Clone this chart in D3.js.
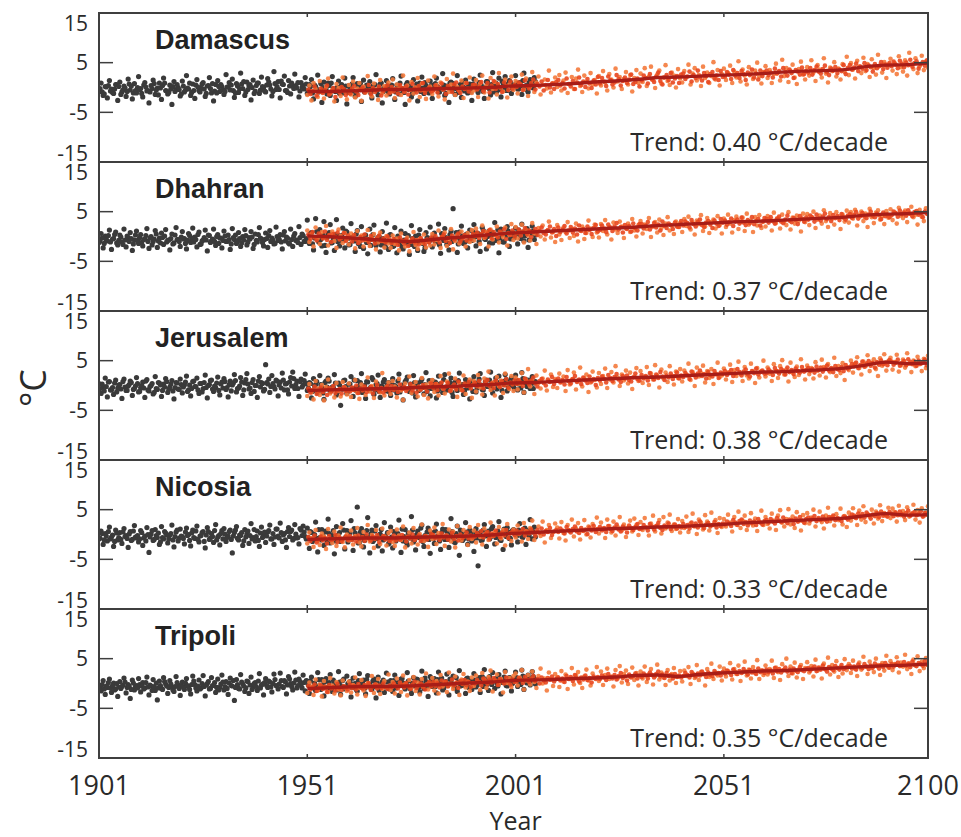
<!DOCTYPE html>
<html><head><meta charset="utf-8">
<script src="https://cdn.jsdelivr.net/npm/d3@7"></script>
<style>body{margin:0;background:#fff}svg{display:block}</style>
</head><body><svg id="chart" width="961" height="837"></svg>
<script>
// ---------------- DATA ----------------
const stations = ["Damascus", "Dhahran", "Jerusalem", "Nicosia", "Tripoli"];
const trendLabels = ["Trend: 0.40 °C/decade", "Trend: 0.37 °C/decade", "Trend: 0.38 °C/decade", "Trend: 0.33 °C/decade", "Trend: 0.35 °C/decade"];
const yTicks = [15, 5, -5, -15];
const xTicks = [1901, 1951, 2001, 2051, 2100];
const obsStart = 1901, modStart = 1951, valueStep = 0.5, secondOffset = 0.25; // values every half year, second set shifted a quarter year
const trendYears = [1951,1955,1960,1965,1970,1975,1980,1985,1990,1995,2000,2005,2010,2015,2020,2025,2030,2035,2040,2045,2050,2055,2060,2065,2070,2075,2080,2085,2090,2095,2100];

// Damascus
const damascusObs = [-0.8,0.9,-1.6,0.2,-2.1,1.4,-0.3,-1.2,0.6,-2.6,1.1,-0.9,0.3,-1.8,1.7,-0.5,-2.3,0.8,-1.1,2.2,
-0.2,-1.9,1.0,-0.7,-3.1,0.4,1.5,-1.4,-0.1,0.9,-2.4,1.9,-0.6,-1.3,0.5,-3.4,1.2,-0.4,0.0,-1.7,
1.3,-0.9,2.4,-0.3,-1.6,0.7,-2.2,1.6,-0.6,-0.1,1.0,-1.8,0.3,2.0,-1.1,-2.7,0.6,1.4,-0.8,0.2,
-1.4,2.6,0.1,-0.5,1.7,-2.0,0.8,-1.0,2.9,-0.2,-1.6,1.1,0.4,-2.5,1.5,-0.7,0.9,-1.2,2.1,0.0,
-0.9,1.8,0.5,-1.7,3.2,-0.4,1.2,-2.1,0.7,2.3,-0.6,1.4,-1.3,0.3,2.7,-0.1,-1.9,1.0,0.4,2.0,
-1.2,0.6,1.6,-2.3,0.2,2.5,-0.8,-3.0,1.1,-0.3,0.9,-1.6,2.2,-0.5,-2.6,1.3,0.1,-1.1,1.9,-3.3,
0.4,-0.9,2.0,-1.8,0.8,-0.2,-2.8,1.5,-0.6,0.3,1.2,-2.1,-0.4,2.6,-1.5,0.7,-3.1,0.0,1.4,-1.0,
-0.3,1.8,-2.4,0.5,-1.3,2.3,-0.7,-3.4,1.0,0.2,-1.9,1.6,-0.1,-2.7,0.9,2.1,-1.2,0.4,-0.8,1.3,
-2.2,0.6,1.9,-0.9,-0.2,2.8,-1.6,0.3,-3.0,1.1,0.8,-1.4,2.4,-0.5,-2.0,0.1,1.5,-1.1,0.7,-2.6,
1.7,0.2,-1.0,2.5,-0.4,-2.2,1.2,0.6,-1.5,3.0,0.0,-0.8,1.9,-1.9,0.9,2.2,-0.6,1.4,-1.2,0.5,
2.4,-0.3,1.0,-1.4,2.9,0.4,-0.9,1.6,0.2,2.0];
const damascusObs2 = [-0.2,-0.9,-1.3,0.1,0.4,-0.7,-1.0,-0.3,0.6,0.2,-1.4,-0.5,-0.1,-0.8,0.7,0.3,-1.1,-0.6,0.0,-0.4,
-1.2,0.5,0.1,-0.6,-0.9,-0.2,0.8,-0.5,-1.5,-0.1,0.4,0.9,-0.7,-1.0,-0.3,0.2,-0.8,0.6,-0.4,-1.3,
0.3,-0.5,-0.1,0.9,-1.0,-0.6,0.5,0.1,-0.9,0.7,-0.3,-1.2,0.4,-0.2,0.8,-0.7,-1.1,0.2,0.6,-0.4,
-0.8,0.1,1.0,0.5,-0.6,-1.1,0.3,-0.2,0.7,1.2,-0.9,-0.4,0.6,0.0,-1.2,0.4,0.9,-0.5,0.2,-0.7,
0.5,1.1,-0.3,-0.8,0.8,0.2,-0.4,1.3,0.6,-0.6,-1.0,0.3,0.9,-0.2,0.4,1.0,-0.7,0.1,-0.3,0.7,
-0.6,0.2,-1.1,0.5,-0.3,-0.9,0.8,0.0,-0.5,-1.3,0.4,0.9,-0.2,-0.8,0.1,-1.2,0.6,-0.4,0.3,-1.0,
-0.1,0.7,-0.7,-1.2,0.2,0.8,-0.4,-0.9,0.5,-0.2,-1.1,0.3,0.6,-0.6,-0.1,0.9,-0.8,-0.3,0.4,-1.3,
0.5,-0.5,-0.9,0.2,0.9,-0.2,-1.0,0.6,-0.4,0.1,-1.2,-0.6,0.7,0.3,-0.8,-0.1,1.0,-0.5,-1.1,0.4,
-0.3,0.8,0.2,-0.9,-0.4,0.5,-1.2,0.0,0.9,-0.6,0.3,-0.2,-1.0,0.6,1.1,-0.7,-0.3,0.4,-0.9,0.7,
0.2,-0.5,1.0,0.5,-0.8,0.1,1.2,-0.3,0.6,-0.9,0.9,0.3,-0.4,1.3,0.0,-0.6,0.8,1.1,-0.2,0.5,
0.9,-0.3,0.4,1.4,0.1,-0.5,1.0,0.6,-0.1,1.2];
const damascusModel = [-1.5,0.4,-2.6,0.9,-0.3,-1.9,1.3,-0.9,-2.2,0.1,1.8,-1.2,-0.5,-2.8,0.7,-0.1,-1.7,2.0,-0.8,-2.4,
0.5,-1.4,1.2,-2.0,-0.2,0.9,-2.7,0.2,-1.0,2.3,-0.6,-1.8,0.8,-0.4,-2.5,1.5,-1.1,0.3,-1.6,1.0,
-0.9,1.6,-2.1,0.6,-0.2,-1.5,2.4,-0.7,0.4,-2.6,1.1,-1.2,0.0,1.9,-1.9,0.8,-0.5,-2.3,1.4,0.2,
-1.3,2.2,0.5,-1.8,1.0,-0.4,-2.4,1.7,-0.9,0.6,2.8,-1.5,0.1,-0.7,1.4,-2.1,0.9,-0.2,2.0,-1.1,
-0.6,1.5,-1.9,0.8,2.4,-1.0,0.3,-2.2,1.9,-0.3,1.1,-1.4,2.9,0.0,-0.8,1.6,-2.0,0.6,2.2,-0.5,
1.3,-1.2,0.7,2.6,-0.4,1.8,-1.7,0.2,3.1,-0.9,1.0,2.2,-1.4,0.5,1.6,-0.2,3.4,-1.0,0.9,2.0,
0.1,2.5,-0.6,1.4,3.0,-1.1,0.7,2.1,-0.3,1.8,3.6,0.3,-0.9,2.4,1.1,-0.2,2.9,0.6,1.5,-1.2,
2.3,0.4,3.3,1.0,-0.6,2.7,1.6,0.0,3.8,1.2,2.1,-0.3,1.7,3.1,0.6,2.5,-0.8,1.9,3.5,0.9,
2.8,1.1,3.9,0.3,2.2,4.2,1.5,-0.1,2.6,3.4,0.8,2.0,4.5,1.3,0.5,3.0,2.4,0.0,3.7,1.8,
1.0,3.3,2.1,4.6,0.6,2.8,3.9,1.4,2.5,0.3,4.2,1.9,3.0,0.9,2.3,5.1,1.6,3.5,0.4,2.7,
3.8,1.5,2.9,4.4,0.9,3.2,2.0,5.3,1.2,3.6,2.4,0.6,4.1,2.8,1.7,3.4,5.0,2.2,0.8,3.1,
4.3,1.9,3.5,0.9,2.7,4.8,3.0,1.4,5.6,2.3,3.9,1.1,3.3,4.6,2.0,0.7,3.7,5.2,2.6,1.6,
4.1,2.4,5.5,3.0,1.3,4.5,3.6,2.0,5.9,2.8,1.0,4.0,3.3,5.1,2.2,3.8,1.6,4.7,3.1,6.2,
2.5,4.9,3.6,1.8,5.4,4.2,2.9,6.0,3.3,4.7,2.1,5.7,3.9,2.6,6.6,4.4,3.0,5.1,1.9,4.6,
5.8,3.4,4.9,2.7,6.3,4.1,3.2,5.5,2.4,7.0,4.6,3.7,5.9,2.9,4.3,6.4,3.5,5.2,4.0,6.1];
const damascusModel2 = [-0.4,-1.3,-0.7,0.2,-1.6,-0.9,-0.2,-1.1,-0.5,0.4,-1.4,-0.8,-0.1,-1.9,-0.6,-1.0,0.1,-0.3,-1.5,-0.7,
-1.2,-0.2,0.3,-0.8,-1.5,-0.4,0.0,-1.0,-0.6,0.5,-1.3,-0.1,-0.9,-0.5,0.2,-1.6,-0.7,-0.2,0.4,-1.1,
0.1,-0.8,-0.3,-1.2,0.5,-0.1,-0.9,0.2,-1.4,-0.5,0.7,-0.2,-1.0,0.3,-0.6,0.9,-1.1,-0.4,0.0,-0.8,
-0.6,0.4,-1.0,0.0,0.8,-0.4,-1.3,0.3,-0.1,-0.9,0.6,1.0,-0.5,-1.1,0.2,-0.3,0.9,-0.8,-0.2,0.5,
0.6,-0.4,0.2,1.1,-0.7,-0.1,0.9,-1.0,0.4,1.3,-0.3,0.7,0.0,-0.9,1.0,0.3,-0.5,1.2,-0.2,0.5,
0.1,1.0,0.6,-0.5,1.4,0.3,-0.2,0.9,1.6,-0.4,0.7,0.2,1.2,-0.6,0.5,1.5,0.0,0.8,-0.3,1.1,
1.5,0.4,0.9,-0.2,1.8,0.7,0.2,1.3,-0.3,1.0,2.0,0.5,1.2,0.1,1.7,0.8,-0.1,1.4,0.6,2.1,
0.8,1.9,1.2,0.3,2.2,1.5,0.6,1.0,2.5,1.7,0.4,1.3,2.0,0.9,1.6,2.6,0.7,1.1,1.8,0.2,
1.4,2.4,1.9,0.8,2.7,1.6,1.1,2.2,3.0,1.3,0.6,2.0,2.5,1.5,2.9,1.0,1.8,2.3,0.9,2.6,
2.8,1.7,2.2,3.2,1.2,2.5,1.9,3.4,2.0,1.4,2.9,2.3,1.1,2.7,3.1,1.8,2.4,1.5,3.3,2.1,
2.2,3.1,2.6,1.7,3.5,2.4,2.9,1.9,3.3,2.7,1.5,3.0,2.5,3.6,2.0,2.8,1.6,3.4,2.3,3.0,
3.4,2.5,3.0,2.0,3.8,2.8,3.3,2.2,3.9,3.1,2.4,3.6,2.9,1.9,3.5,3.2,2.6,4.0,2.7,3.3,
3.0,3.9,2.6,3.5,4.2,3.2,2.8,3.7,4.4,3.1,2.5,3.8,3.4,4.1,2.9,3.6,3.3,4.5,2.7,3.9,
4.5,3.6,4.0,4.8,3.3,4.2,3.8,4.9,3.5,4.4,4.1,3.2,4.7,3.9,4.3,5.1,3.7,4.6,4.0,4.9,
4.3,5.2,4.6,3.9,5.4,4.8,4.1,5.0,4.5,5.6,4.2,4.9,5.3,3.8,4.7,5.1,4.4,5.5,4.6,5.0];
const damascusTrend = [-0.8,-0.8,-0.7,-0.6,-0.4,-0.4,-0.3,-0.2,-0.1,0.0,0.3,0.4,0.6,0.8,1.1,1.3,1.6,2.0,2.1,2.3,2.5,2.6,2.8,3.1,3.3,3.4,3.6,4.2,4.5,4.6,4.9];

// Dhahran
const dhahranObs = [-1.2,0.6,-2.3,0.1,-0.9,1.3,-2.6,-0.4,0.9,-1.7,0.3,-1.1,1.5,-2.1,-0.2,0.8,-2.8,-0.7,1.1,-1.4,
0.4,-1.9,-0.5,1.6,-2.4,0.0,-1.0,1.2,-2.2,-0.3,0.7,-1.6,1.4,-0.8,-2.7,0.5,-1.3,1.8,-0.6,-2.0,
1.0,-0.4,-2.5,0.6,-1.2,1.7,-0.1,-2.1,0.9,-1.5,-0.7,1.3,-2.9,0.2,-0.9,1.5,-1.8,0.4,-0.3,-2.3,
1.1,-1.0,0.3,-2.6,1.6,-0.6,-1.4,0.8,-2.0,0.0,1.4,-1.7,-0.2,1.0,-2.4,0.5,-1.1,1.8,-0.5,-1.9,
0.7,-2.2,1.2,-0.3,-1.5,1.9,-0.8,0.4,-2.5,1.0,-0.1,-1.3,1.5,-2.0,0.6,-0.7,2.0,-1.6,0.2,-1.0,
3.3,-1.4,0.8,-2.7,3.6,-0.5,1.4,-1.9,3.0,-3.2,0.5,2.4,-1.2,-2.8,3.4,0.2,-0.9,1.7,-2.3,0.9,
-1.7,2.6,-0.4,-3.0,1.2,-1.1,2.0,-2.4,0.3,-3.5,1.5,-0.6,2.3,-1.8,-0.2,-3.1,1.0,-1.3,2.7,-2.6,
0.4,-2.0,1.8,-3.3,-0.7,1.1,-2.5,0.6,-1.5,-3.6,2.2,-0.9,0.1,-2.8,1.4,-1.2,-3.0,0.8,-0.3,1.9,
-2.1,0.7,-1.0,2.5,-3.4,0.0,1.6,-1.6,-2.7,1.1,5.6,-0.5,-3.2,0.9,2.1,-1.4,0.3,-2.3,1.3,-0.8,
2.4,-1.9,0.6,-3.0,1.8,-0.4,-2.5,1.0,0.2,-1.3,2.8,-0.7,-3.3,1.5,-1.1,0.5,2.0,-2.0,0.8,-0.2,
1.7,-1.5,0.4,2.5,-0.9,1.2,-2.2,0.9,2.1,-0.6];
const dhahranObs2 = [-0.9,-0.3,-1.4,-0.6,0.2,-1.1,-0.5,0.4,-1.3,-0.8,-0.1,-1.6,-0.7,0.1,-1.0,-0.4,-1.5,0.3,-0.8,-0.2,
-1.2,-0.6,0.2,-1.0,-0.3,-1.7,-0.5,0.5,-0.9,-1.3,-0.2,0.1,-1.1,-0.7,-0.4,-1.5,0.3,-0.6,-1.0,-0.1,
-0.5,-1.4,-0.8,0.2,-0.3,-1.1,-0.6,0.4,-1.6,-0.9,-0.2,-0.7,0.3,-1.2,-0.5,-1.0,0.0,-1.4,-0.3,-0.8,
0.1,-1.0,-0.6,-1.5,-0.2,0.3,-0.9,-0.4,-1.3,-0.7,0.2,-1.1,-0.5,-0.1,-1.6,-0.8,0.4,-0.3,-1.2,-0.6,
-0.4,0.2,-1.0,-0.7,-1.4,0.0,-0.5,-1.1,0.3,-0.9,-0.3,-1.5,-0.6,0.1,-0.8,-1.2,-0.2,0.5,-1.0,-0.4,
-0.8,0.6,-1.5,-0.3,1.0,-1.1,-0.6,0.3,-1.8,-0.2,0.8,-1.3,-0.5,0.4,-1.0,-1.9,0.2,-0.7,1.1,-0.4,
-1.6,-0.1,-0.9,0.5,-1.4,-2.0,-0.3,0.2,-1.2,-0.6,-1.8,0.4,-0.8,-1.3,0.0,-1.7,-0.4,-2.1,-0.9,0.3,
-1.1,-1.9,-0.5,0.1,-1.5,-2.2,-0.7,-1.0,0.2,-1.6,-0.4,-2.0,-1.2,0.3,-0.8,-1.4,-2.3,-0.2,-1.0,-0.6,
0.2,-1.1,-0.5,-1.7,0.6,-0.8,-0.2,-1.4,0.4,-1.0,-0.3,0.8,-1.5,-0.6,0.1,-1.2,0.5,-0.9,-0.4,1.0,
-0.1,0.7,-1.0,0.3,1.2,-0.6,0.0,-1.3,0.9,0.4,-0.8,1.4,-0.3,0.6,-1.1,0.2,1.1,-0.5,0.8,-0.2,
0.5,1.3,-0.4,0.9,0.1,1.6,-0.7,0.6,1.1,0.3];
const dhahranModel = [1.2,-1.1,0.5,-2.0,1.8,-0.4,-1.5,0.9,-0.2,2.1,-1.8,0.3,1.0,-0.9,-2.3,1.4,0.1,-1.3,0.7,-0.6,
-1.6,0.6,-0.2,-2.4,1.1,-1.0,0.2,-2.0,-0.7,1.3,-1.9,-0.3,0.5,-2.6,-1.2,0.8,-0.9,-2.2,0.1,-1.4,
-2.3,0.2,-1.5,-0.4,-2.8,0.6,-1.1,-2.0,-0.2,-3.0,-0.8,0.9,-1.7,-2.5,-0.5,-1.3,0.4,-2.2,-0.9,-1.8,
0.5,-1.6,-0.7,1.2,-2.3,-0.1,0.8,-1.9,-0.5,1.5,-2.6,-0.9,0.3,-1.4,1.0,-0.2,-2.0,0.7,-1.1,1.3,
-0.8,1.6,0.1,-1.5,2.2,-0.3,0.9,-2.0,1.4,-0.6,0.4,2.0,-1.2,0.7,-0.1,1.8,-1.8,0.3,2.5,-0.7,
1.9,-0.4,0.8,2.4,-1.2,1.3,0.2,-0.8,2.7,0.6,-1.5,1.7,0.0,2.2,-0.6,1.1,3.0,-0.2,0.9,-1.1,
2.3,0.4,-0.7,1.8,0.9,2.9,-0.3,1.5,0.1,2.6,-1.0,1.2,2.0,-0.5,0.7,3.2,1.6,-0.1,2.4,0.8,
-0.2,2.5,1.1,3.3,0.4,1.9,-0.6,2.8,1.4,0.7,3.0,2.0,-0.3,1.6,2.6,0.9,3.5,1.2,0.0,2.3,
3.1,0.6,2.4,1.5,3.7,-0.1,2.0,2.9,0.8,3.4,1.7,0.3,2.6,3.9,1.2,2.2,0.5,3.0,1.9,2.7,
0.9,3.5,2.1,4.0,1.4,2.8,0.4,3.2,2.5,4.3,1.1,2.0,3.7,0.7,2.9,3.4,1.6,4.1,2.3,0.6,
3.6,1.9,4.4,2.6,0.8,3.3,4.0,1.5,2.9,3.8,1.1,4.6,2.4,3.1,0.9,3.9,2.2,4.3,1.7,3.0,
2.0,4.1,3.4,1.2,4.8,2.7,3.6,1.6,4.4,3.0,2.3,4.9,1.4,3.8,2.6,4.2,3.2,1.0,4.6,2.9,
4.5,2.3,3.9,5.0,1.7,3.4,4.2,2.6,5.3,3.1,1.9,4.7,3.6,2.4,4.9,3.8,1.5,4.4,3.0,5.2,
2.8,4.9,3.6,5.4,2.2,4.3,5.0,3.1,4.6,1.9,5.6,3.9,2.7,4.8,5.3,3.4,4.1,2.5,5.1,3.8,
5.5,3.3,4.8,2.6,5.8,4.2,3.7,5.2,2.9,4.6,6.0,3.9,4.4,2.4,5.4,4.0,3.1,5.7,4.5,3.6];
const dhahranModel2 = [0.4,-0.5,0.9,-0.2,-0.8,0.6,0.1,-0.4,1.0,-0.7,0.3,-1.1,0.5,-0.1,0.8,-0.6,-0.3,0.7,-0.9,0.2,
-0.2,-1.0,0.3,-0.6,-1.3,-0.1,-0.8,0.4,-0.5,-1.1,0.1,-0.7,-1.4,-0.3,0.2,-0.9,-0.4,-1.2,0.0,-0.6,
-1.3,-0.5,-1.0,-1.7,-0.2,-0.8,-1.4,-0.6,-1.9,-1.1,-0.4,-1.2,-0.7,-1.6,-0.3,-1.0,-1.5,-0.6,-1.2,-0.2,
-0.8,0.1,-0.5,-1.2,-0.1,0.4,-0.9,-0.3,-1.3,0.2,-0.6,-0.2,0.6,-1.0,-0.4,0.3,-0.8,0.0,-0.5,0.5,
0.1,0.8,-0.3,0.5,1.1,-0.1,0.6,1.3,-0.4,0.9,0.2,-0.2,1.0,0.4,1.4,-0.5,0.7,0.3,1.2,0.0,
0.6,1.4,0.2,1.0,1.7,0.5,1.2,-0.1,0.9,1.5,0.3,1.1,1.8,0.7,0.4,1.3,2.0,0.8,1.5,0.1,
1.8,0.9,1.4,2.1,0.6,1.2,1.9,0.8,1.6,0.4,2.2,1.1,1.5,0.7,2.0,1.3,0.5,1.7,2.3,1.0,
1.3,2.2,1.6,0.9,2.4,1.8,1.1,2.0,2.7,1.4,1.9,0.8,2.3,1.5,2.1,1.0,2.6,1.7,1.2,2.5,
2.5,1.6,2.2,2.9,1.4,2.0,2.7,1.8,2.4,1.2,3.0,2.1,1.7,2.6,2.3,1.5,2.8,2.0,1.9,3.1,
2.2,3.0,2.7,1.8,3.3,2.5,2.0,2.9,3.4,2.3,1.9,2.8,3.1,2.4,1.7,3.2,2.6,2.1,3.5,2.8,
3.2,2.4,2.9,3.6,2.1,3.0,3.4,2.6,3.8,2.8,2.3,3.3,2.7,3.9,2.5,3.1,3.5,2.2,3.0,3.7,
3.5,2.8,3.9,3.1,2.6,3.6,4.0,3.0,2.7,3.4,4.2,3.2,2.9,3.7,3.3,2.5,4.1,3.6,3.0,3.8,
3.4,4.2,3.8,3.0,4.4,3.6,3.2,4.0,4.6,3.5,3.9,3.1,4.3,3.7,4.1,3.3,4.5,3.8,3.4,4.2,
4.5,3.8,4.3,4.9,3.6,4.1,4.7,4.0,3.7,4.4,5.0,4.2,3.9,4.6,4.3,3.5,4.8,4.1,4.4,3.9,
4.3,5.0,4.7,4.0,5.2,4.5,4.8,4.2,5.3,4.6,4.1,4.9,5.1,4.4,4.7,3.9,5.0,4.6,4.3,5.2];
const dhahranTrend = [0.1,0.0,-0.2,-0.5,-0.8,-1.0,-0.7,-0.3,0.0,0.4,0.7,0.9,1.1,1.3,1.5,1.7,1.9,2.2,2.4,2.6,2.8,3.0,3.1,3.3,3.5,3.7,3.9,4.3,4.5,4.6,4.8];

// Jerusalem
const jerusalemObs = [0.4,-1.6,-0.2,1.5,-2.3,0.8,-0.9,-1.8,1.1,-0.5,0.2,-2.6,1.3,-1.0,-0.1,0.9,-2.0,-0.6,1.6,-1.3,
-0.4,0.7,-2.4,1.2,-1.1,0.0,-1.7,1.8,-0.8,0.5,-2.2,0.3,1.4,-1.4,-0.3,1.0,-2.7,0.6,-0.7,1.3,
-1.5,0.1,1.9,-0.9,-2.1,0.8,-0.2,1.5,-1.6,0.4,-0.6,2.1,-2.5,0.2,1.1,-1.2,-0.4,1.7,-1.9,0.7,
1.4,-0.8,-2.3,0.9,0.1,2.2,-1.3,-0.5,1.6,-2.0,0.5,2.4,-0.7,-1.6,1.2,0.0,-2.4,1.8,0.6,-1.1,
4.2,0.3,-1.4,2.0,-0.2,1.1,-2.1,0.7,2.5,-0.9,0.4,-1.7,1.6,2.7,-0.6,0.9,-2.2,1.3,0.1,2.3,
-1.0,0.6,-2.5,1.4,0.2,-1.5,2.0,-0.4,-2.8,0.9,1.5,-1.2,-0.3,2.2,-1.9,0.5,-4.0,-0.7,1.1,-1.6,
0.3,1.8,-2.2,-0.5,1.0,-1.3,2.4,-0.1,-2.6,0.7,-0.9,1.6,-1.8,0.2,2.1,-2.4,-0.2,1.2,-1.1,0.6,
-2.0,1.4,0.0,-1.5,2.3,-0.7,-2.9,0.8,1.7,-1.2,-0.3,2.0,-2.3,0.5,-0.8,1.3,-1.7,2.6,-0.4,-2.1,
1.0,-0.6,-2.5,1.9,0.3,-1.4,2.2,-0.9,-0.1,1.5,-2.2,0.7,-1.0,2.5,0.1,-1.8,1.2,-0.5,-2.7,0.9,
1.8,-1.3,0.4,2.4,-0.8,-2.0,1.1,0.0,2.7,-1.5,0.6,-0.7,1.9,-2.4,0.8,2.2,-1.1,0.3,1.5,-0.2,
2.1,-0.9,0.7,2.6,-1.4,1.2,0.2,-0.6,1.8,0.5];
const jerusalemObs2 = [-0.6,0.3,-1.1,-0.2,0.7,-0.9,-0.4,0.5,-1.3,0.1,-0.7,0.8,-0.3,-1.0,0.2,0.6,-0.8,-0.1,0.4,-1.2,
0.0,-0.5,0.9,-0.9,-0.2,0.4,-1.4,-0.6,0.6,0.1,-1.0,-0.3,0.8,-0.7,0.3,-1.1,-0.4,0.5,-0.8,0.2,
-0.3,0.7,-1.2,0.1,-0.6,0.9,-0.2,-0.9,0.4,-1.3,0.6,-0.4,0.0,1.0,-0.7,-0.1,0.5,-1.0,0.3,-0.5,
0.8,-0.4,0.2,-1.1,0.5,1.0,-0.6,-0.1,0.7,-0.9,1.2,0.3,-0.5,0.6,-1.2,0.0,0.9,-0.3,0.4,-0.8,
0.6,1.3,-0.2,0.4,-0.7,0.9,0.1,-0.5,1.1,0.3,-0.9,0.7,-0.1,1.4,0.2,-0.6,0.8,-0.3,1.0,0.4,
-0.5,0.4,-1.2,-0.1,0.8,-0.8,0.2,-1.5,0.6,-0.3,0.9,-1.0,-0.4,0.5,-1.3,0.1,-0.7,1.0,-0.2,-1.1,
0.3,-0.6,1.1,-1.0,-0.2,0.6,-1.4,0.0,0.8,-0.7,-0.3,1.2,-0.9,0.4,-1.2,-0.1,0.7,-0.5,0.2,-1.3,
0.5,-0.9,-0.2,0.9,-1.3,0.1,-0.5,1.1,-0.8,0.3,-1.5,0.6,-0.1,-1.0,0.8,-0.4,0.2,-1.2,1.0,-0.6,
-0.2,0.7,-1.1,0.3,-0.6,1.2,-0.9,0.0,0.6,-1.4,0.4,-0.3,1.0,-0.7,0.2,-1.0,0.8,-0.4,0.5,-1.2,
0.6,-0.5,1.3,0.1,-0.9,0.8,-0.2,1.1,-0.6,0.4,1.5,-0.3,0.7,-1.0,0.2,1.2,-0.4,0.9,0.0,-0.7,
1.0,0.3,-0.5,1.4,0.6,-0.2,1.1,0.4,-0.6,0.8];
const jerusalemModel = [-2.1,0.3,-1.4,-2.8,0.9,-0.6,-1.9,0.1,-3.0,-0.3,1.2,-1.6,-0.8,-2.4,0.5,-1.1,-2.2,0.7,-0.4,-1.8,
0.4,-2.3,-0.9,1.1,-1.5,-2.7,0.2,-0.5,-1.9,1.6,-1.2,-0.1,-2.5,0.8,-0.7,-1.4,2.5,-2.0,-0.3,0.6,
-1.7,0.9,-0.2,-2.4,1.3,-1.0,-2.9,0.4,-0.6,1.8,-1.5,-0.1,0.7,-2.2,-0.8,1.5,-1.9,0.2,-2.6,0.5,
1.1,-1.3,0.3,-2.0,1.9,-0.6,-1.6,0.8,2.4,-1.0,-0.2,1.4,-2.3,0.5,-0.9,2.0,-1.7,0.0,1.2,-2.5,
0.9,-1.2,2.1,-0.4,-1.8,1.4,0.2,2.8,-0.9,0.6,-2.0,1.7,-0.1,1.0,-1.5,2.4,0.4,-0.7,1.9,-1.1,
1.6,-0.8,0.3,2.5,-1.4,1.1,3.3,-0.2,0.8,-1.7,2.0,0.5,-0.6,1.4,3.0,-1.0,0.9,2.2,-0.3,1.3,
-0.5,2.4,0.7,1.8,-1.1,3.1,0.2,1.2,2.6,-0.8,0.9,3.6,-0.2,1.5,2.2,-1.3,0.6,2.8,1.1,-0.4,
2.5,0.3,1.9,3.4,-0.5,1.2,2.7,0.6,3.9,1.6,-0.1,2.2,1.0,3.0,0.4,2.6,-0.7,1.8,3.5,0.9,
2.9,0.5,1.6,3.7,0.1,2.4,1.2,4.1,2.0,-0.4,3.2,1.4,2.6,0.7,3.9,1.9,0.2,2.8,1.5,3.3,
0.8,3.0,2.2,4.4,1.1,2.7,-0.1,3.6,1.8,2.5,4.0,0.6,2.9,1.5,3.3,0.3,2.4,4.6,1.7,2.0,
3.4,1.2,2.6,4.2,0.7,3.1,1.9,4.8,2.3,0.9,3.7,2.0,1.4,4.4,2.8,0.5,3.5,1.6,2.9,5.0,
1.8,3.6,2.4,0.9,4.3,2.9,1.5,3.9,5.1,2.2,3.2,0.8,4.6,2.6,1.7,3.8,2.1,5.3,3.0,1.2,
4.0,2.3,3.5,1.4,4.7,3.0,2.0,5.2,3.7,1.6,4.3,2.7,3.3,5.6,1.9,3.9,2.5,4.5,1.1,3.6,
3.1,5.0,2.6,4.4,5.7,3.5,2.2,4.8,3.9,6.1,2.9,4.6,5.3,3.3,1.9,5.5,4.0,6.3,3.0,4.9,
5.6,3.2,4.7,6.2,2.8,4.1,5.2,3.6,6.5,4.4,2.7,5.0,3.9,5.8,4.3,2.9,5.4,3.5,6.0,4.8];
const jerusalemModel2 = [-0.6,-1.4,-0.9,-0.2,-1.7,-1.1,-0.4,-1.3,-0.8,-1.9,-0.5,-1.2,-0.1,-1.5,-1.0,-0.7,-1.6,-0.3,-1.1,-0.8,
-1.2,-0.4,-0.9,0.0,-1.5,-0.6,-1.0,-0.2,-1.3,-0.7,-0.3,-1.6,-0.8,0.1,-1.1,-0.5,-1.4,-0.9,-0.1,-1.0,
-0.1,-0.9,-0.5,-1.3,0.2,-0.7,-0.3,-1.1,-0.6,0.3,-1.0,-0.4,-1.4,-0.2,-0.8,0.1,-0.5,-1.2,-0.3,0.4,
-0.5,0.3,-0.9,0.0,0.6,-0.7,-0.2,0.5,-1.1,-0.4,0.2,-0.8,0.8,-0.3,-1.0,0.4,-0.1,0.7,-0.6,0.1,
0.5,-0.2,0.9,0.1,-0.6,0.7,1.1,-0.1,0.4,-0.5,1.0,0.3,-0.3,0.8,0.0,1.3,-0.4,0.6,0.2,1.0,
0.3,1.1,0.6,-0.1,1.4,0.8,0.2,1.0,1.6,0.4,-0.2,0.9,1.3,0.5,0.0,1.2,0.7,1.7,0.3,1.0,
1.4,0.6,1.1,0.2,1.7,0.9,0.4,1.3,1.9,0.7,1.2,0.3,1.6,1.0,0.5,1.8,0.8,1.3,0.1,1.5,
1.0,1.8,1.3,0.6,2.1,1.5,0.9,1.7,2.3,1.2,0.7,1.9,1.4,2.0,1.1,0.8,1.6,2.4,1.3,1.0,
2.1,1.4,1.9,1.0,2.5,1.7,1.2,2.2,1.5,2.7,1.8,1.1,2.0,1.6,2.4,1.3,1.9,2.6,1.4,2.0,
1.7,2.5,2.0,1.3,2.8,2.2,1.6,2.4,3.0,1.9,2.3,1.4,2.7,2.1,1.8,2.9,2.2,1.5,2.6,2.4,
2.9,2.1,2.6,3.1,1.9,2.4,3.3,2.7,2.0,2.8,3.2,2.3,1.8,2.9,2.5,3.4,2.2,2.7,3.0,2.4,
2.5,3.2,2.8,2.1,3.5,2.9,2.4,3.3,3.0,2.2,3.6,2.7,3.1,2.3,3.4,2.9,2.6,3.7,2.8,3.1,
3.5,2.9,3.3,2.6,3.8,3.1,3.6,2.8,3.4,4.0,3.0,3.5,2.7,3.9,3.3,3.1,3.7,2.9,4.1,3.4,
3.7,4.3,3.9,4.6,3.5,4.1,4.8,3.8,4.4,4.9,4.0,4.5,3.6,4.7,4.2,5.0,4.3,4.6,4.1,5.1,
4.8,4.2,4.6,5.2,4.0,4.5,4.9,4.1,5.3,4.7,4.3,4.8,4.0,5.0,4.4,4.7,5.2,4.1,4.6,4.9];
const jerusalemTrend = [-1.0,-0.9,-0.8,-0.7,-0.6,-0.5,-0.3,-0.2,0.0,0.2,0.5,0.6,0.8,1.0,1.2,1.4,1.6,1.7,1.9,2.1,2.3,2.5,2.7,2.8,3.0,3.2,3.5,4.1,4.7,4.4,4.5];

// Nicosia
const nicosiaObs = [-0.9,0.7,-2.0,0.2,-1.3,1.5,-0.5,-2.4,0.9,-1.1,0.4,-1.8,1.2,-0.2,-2.6,0.6,-1.0,1.8,-0.7,-1.5,
0.8,-2.2,-0.3,1.4,-3.6,0.1,-1.2,1.0,-0.6,-2.0,1.6,-0.9,0.3,-1.7,-0.1,1.9,-2.5,0.5,-1.3,1.1,
-0.4,-1.9,1.3,0.0,-2.3,0.9,-0.8,1.7,-1.5,-0.2,0.6,-2.7,1.4,-1.0,0.2,-1.6,2.0,-0.5,-2.1,0.8,
1.2,-1.4,-0.3,0.9,-3.7,0.4,1.6,-1.1,-0.2,-2.2,1.0,0.1,-1.8,2.2,-0.6,-1.3,0.7,-2.4,1.5,-0.1,
-1.6,0.5,1.9,-0.9,-2.0,1.1,-0.3,2.3,-1.4,0.2,-2.6,1.4,0.6,-1.1,2.0,-0.7,-1.9,0.9,1.7,-0.4,
1.3,-2.8,0.4,-1.2,2.5,-3.5,-0.6,1.0,-2.2,0.7,3.1,-1.7,-0.2,-3.9,1.6,0.0,-1.4,2.2,-2.9,0.8,
-0.9,2.8,-3.2,0.3,5.5,-1.6,1.2,-2.5,-0.4,3.4,-3.7,0.9,-1.1,1.8,-2.3,0.1,-3.3,2.4,-0.7,-1.9,
1.5,-2.7,0.5,-0.8,2.9,-3.6,-1.3,1.0,-2.1,0.2,3.6,-1.5,-3.1,0.7,-0.4,1.9,-2.4,-0.9,1.3,-3.8,
0.4,-1.8,2.1,-0.3,-3.0,1.1,-1.0,0.6,-2.6,3.2,-0.6,-1.6,1.7,-4.2,0.2,-0.9,2.4,-2.0,0.9,-1.3,
-3.4,1.2,-6.3,0.4,-1.1,2.0,-2.4,0.7,-0.5,1.6,-1.9,0.0,2.6,-1.2,-3.0,0.9,1.4,-0.8,-2.1,1.0,
0.3,-1.5,2.2,-0.4,1.1,-2.0,0.8,3.0,-0.9,1.5];
const nicosiaObs2 = [-0.7,0.2,-1.1,-0.3,0.6,-0.9,-0.1,-1.4,0.3,-0.6,-1.0,0.5,-0.4,-0.8,0.1,-1.2,0.7,-0.5,-0.2,-0.9,
0.4,-0.7,-1.3,0.0,-0.5,0.8,-1.0,-0.2,0.3,-1.5,-0.6,0.6,-0.1,-0.9,0.2,-1.1,-0.4,0.9,-0.7,-0.3,
-0.8,0.5,-0.2,-1.2,0.3,-0.6,0.7,-1.0,-0.3,0.4,-1.4,-0.1,0.6,-0.7,-0.4,0.8,-1.1,-0.2,0.2,-0.9,
0.1,-0.6,0.6,-1.0,-0.3,0.9,-0.8,-0.1,0.4,-1.3,-0.5,0.7,-0.2,-0.9,1.0,-0.4,-1.2,0.3,-0.6,0.5,
-0.3,0.8,-0.9,0.2,-0.5,1.1,-0.7,0.4,-0.1,-1.1,0.6,-0.4,0.9,-0.8,0.1,-0.6,1.2,-0.2,0.5,-0.9,
-0.6,0.6,-1.4,0.0,-0.8,1.0,-1.1,-0.3,0.5,-1.6,0.2,-0.7,0.8,-1.3,-0.2,0.4,-1.0,0.9,-0.5,-1.5,
0.3,-0.9,1.2,-0.4,-1.7,0.5,-0.2,-1.2,0.8,-0.6,0.1,-1.4,0.7,-0.8,-0.1,1.0,-1.1,-0.3,0.4,-1.6,
-0.5,0.6,-1.3,0.2,-0.9,1.1,-0.4,-1.5,0.3,-0.7,0.9,-1.1,0.0,-0.6,1.3,-1.4,-0.2,0.5,-1.0,0.1,
-0.8,0.7,-0.3,-1.3,0.4,-0.6,1.0,-1.0,-0.1,0.6,-1.5,0.2,-0.5,0.9,-1.2,-0.2,0.5,-0.9,0.3,-1.1,
0.6,-0.7,0.1,-1.2,0.9,-0.3,0.4,-0.9,1.2,0.0,-0.6,0.7,-1.0,0.3,1.1,-0.4,0.5,-0.8,0.8,0.2,
-0.3,0.9,0.4,-0.6,1.3,0.1,-0.2,1.0,0.5,-0.5];
const nicosiaModel = [-1.8,0.4,-0.7,-2.5,0.9,-1.3,-2.1,0.2,-0.4,-2.9,1.1,-1.0,-1.7,0.6,-2.3,-0.2,1.4,-1.5,-2.6,0.0,
-1.2,0.8,-2.0,-0.3,1.3,-1.6,-2.4,0.5,-0.9,1.9,-1.4,-0.1,-2.7,0.9,-0.6,-1.9,1.2,-0.4,-2.2,0.3,
0.7,-1.5,-2.3,1.0,-0.2,-1.1,1.6,-2.6,-0.5,0.4,-1.8,1.3,-0.8,-2.0,0.1,2.0,-1.3,-0.3,-2.5,0.8,
-0.9,1.4,-1.9,0.3,-0.6,2.1,-2.3,-0.2,1.0,-1.4,0.6,-2.6,1.7,-0.7,-1.2,0.9,-0.1,-2.1,1.5,-0.9,
0.8,-1.6,1.9,-0.5,-2.0,1.2,0.3,-1.1,2.4,-0.3,0.5,-1.8,1.5,-0.8,0.9,-2.2,2.1,0.1,-1.3,1.0,
-0.6,1.8,0.2,-1.4,2.3,0.7,-0.9,1.3,2.8,-1.1,0.4,1.6,-0.3,2.6,-1.6,0.9,1.9,-0.7,0.5,2.2,
1.4,-0.8,2.5,0.3,-1.2,1.9,0.6,3.0,-0.4,1.2,2.3,-1.0,0.8,2.9,0.0,1.6,-0.6,2.1,1.0,3.4,
0.2,2.4,1.1,-0.7,3.0,1.7,0.4,2.6,-0.2,1.5,3.5,0.8,2.0,-0.5,1.3,2.8,0.6,3.2,1.9,-0.1,
2.5,0.9,3.3,1.4,-0.2,2.2,3.8,0.6,1.8,2.9,0.2,3.5,1.2,2.4,4.0,0.7,2.0,1.1,3.1,0.4,
2.7,1.3,3.6,0.5,2.2,4.2,1.6,0.1,3.0,2.4,1.0,3.9,2.6,0.8,4.4,1.9,2.9,0.3,3.3,1.5,
3.1,1.6,4.0,2.4,0.6,3.5,2.0,4.6,1.3,2.8,3.8,0.9,2.3,4.3,1.8,3.2,0.7,2.6,4.8,1.9,
3.5,2.1,1.2,4.2,2.8,0.9,3.8,4.9,2.4,1.6,3.1,5.1,2.0,3.6,1.3,4.5,2.7,0.8,3.9,2.3,
4.3,2.2,3.4,5.0,1.6,3.0,4.6,2.5,1.2,3.8,5.4,2.7,3.5,1.8,4.1,2.9,5.2,2.0,3.7,1.5,
4.4,2.8,5.3,3.4,1.9,4.8,3.0,5.7,2.5,4.1,3.6,5.0,2.2,4.6,3.2,5.9,2.7,4.3,3.8,5.4,
3.3,5.2,4.5,2.6,5.8,3.9,4.7,2.9,5.5,3.6,4.2,6.0,3.0,4.9,2.4,5.3,3.7,4.4,5.7,3.1];
const nicosiaModel2 = [-0.5,-1.3,-0.8,-0.2,-1.6,-1.0,-0.4,-1.2,-0.7,-1.8,-0.3,-1.1,-0.9,-0.1,-1.5,-0.6,-1.3,-0.8,-0.4,-1.1,
-0.3,-1.1,-0.6,-1.4,-0.2,-0.9,-0.5,-1.3,0.0,-0.8,-1.2,-0.4,-0.9,-0.1,-1.5,-0.7,-0.3,-1.0,-0.6,-1.3,
-0.9,-0.2,-1.2,-0.5,-1.0,-0.1,-0.7,-1.4,-0.4,-0.8,0.0,-1.1,-0.6,-0.2,-1.3,-0.8,-0.3,-1.0,-0.5,0.1,
-0.1,-0.8,-0.4,-1.1,0.2,-0.6,-0.2,-1.0,-0.5,0.3,-0.9,-0.3,-1.2,0.0,-0.7,-0.4,0.4,-0.8,-0.2,-0.6,
-0.4,0.3,-0.1,0.7,-0.6,0.1,0.5,-0.8,0.2,-0.3,0.8,0.0,-0.5,0.4,-0.2,0.9,-0.7,0.3,0.6,-0.1,
0.8,0.1,0.5,1.1,-0.2,0.6,0.2,1.0,0.4,-0.3,0.9,0.3,1.2,0.0,0.7,0.5,1.3,-0.1,0.6,0.9,
0.5,1.2,0.8,0.2,1.5,0.9,0.4,1.1,1.6,0.6,0.3,1.3,0.7,1.0,0.1,1.4,0.8,1.7,0.5,1.1,
1.5,0.8,1.3,0.5,1.7,1.1,0.7,1.4,2.0,1.0,0.6,1.6,1.2,0.4,1.8,1.3,0.9,1.5,2.1,1.1,
1.2,1.9,1.4,0.8,2.1,1.6,1.0,1.7,2.3,1.3,0.9,1.8,1.5,2.2,1.1,1.6,2.0,1.2,1.7,1.4,
2.1,1.5,1.9,1.2,2.4,1.7,2.2,1.4,2.6,1.8,1.3,2.0,2.3,1.6,1.9,2.5,1.4,2.1,1.7,2.2,
2.0,2.6,2.2,1.7,2.9,2.4,1.9,2.7,3.0,2.1,2.5,1.8,2.8,2.3,2.6,1.9,3.1,2.4,2.0,2.7,
2.9,2.4,3.1,2.6,2.2,3.3,2.8,2.5,3.4,2.7,2.3,3.0,2.9,2.1,3.2,2.6,3.5,2.8,2.4,3.1,
3.4,2.8,3.2,3.7,2.7,3.3,2.9,3.6,3.0,2.6,3.5,3.2,3.8,2.9,3.3,3.1,2.7,3.6,3.4,3.0,
3.5,4.0,3.8,3.3,4.2,3.6,4.1,3.4,4.4,3.9,3.2,4.0,3.7,4.3,3.5,4.6,3.8,4.1,3.6,4.5,
4.2,3.7,4.4,3.9,4.6,4.1,3.6,4.3,4.8,3.8,4.2,4.5,3.9,4.1,4.7,3.6,4.3,4.0,4.5,3.8];
const nicosiaTrend = [-1.0,-0.9,-0.8,-0.7,-0.7,-0.6,-0.5,-0.4,-0.3,-0.1,0.2,0.4,0.6,0.8,1.0,1.2,1.3,1.5,1.6,1.8,2.0,2.3,2.5,2.7,2.9,3.1,3.3,3.8,4.2,3.9,4.0];

// Tripoli
const tripoliObs = [-0.3,-1.5,0.6,-2.2,-0.8,0.9,-1.8,0.1,-1.1,-2.6,0.4,-0.6,1.1,-1.9,-0.2,-3.0,0.7,-1.3,-0.4,1.0,
-1.7,0.2,-0.9,1.3,-2.3,-0.5,0.8,-1.4,-3.3,0.5,-1.0,1.2,-0.1,-2.0,0.6,-0.7,-1.6,1.4,-0.3,-2.4,
0.3,-1.2,1.0,-0.6,-2.1,1.5,-0.2,-1.5,0.7,-0.9,1.6,-2.5,0.0,-1.1,1.2,-0.4,-1.8,0.9,-0.8,1.7,
-1.3,0.4,-2.2,1.1,-0.5,-3.4,0.8,-1.0,1.8,-0.1,-1.6,0.5,-2.0,1.3,-0.7,0.2,-1.4,2.0,-0.3,-2.3,
1.0,-0.8,0.3,-1.7,1.9,-0.4,-1.1,2.1,-0.6,0.6,-2.1,1.4,0.0,-1.3,2.3,-0.9,0.9,-0.2,1.7,-1.5,
0.5,-2.0,1.3,-0.7,-1.4,2.2,-0.3,0.8,-2.5,1.0,-0.9,1.8,-1.6,0.2,-0.5,2.4,-2.2,0.6,-1.1,1.5,
-0.4,-2.7,1.1,0.0,-1.5,2.0,-0.8,0.7,-2.1,1.6,-0.2,-1.2,0.9,-2.9,1.3,-0.6,0.3,-1.8,2.1,-1.0,
0.6,-1.6,1.7,-0.5,-2.4,0.9,0.1,-1.1,2.2,-0.7,-2.0,1.2,-0.3,0.8,-1.7,2.5,-1.0,0.4,-2.6,1.4,
-0.6,1.0,-1.9,2.3,0.2,-1.3,-0.1,1.9,-2.3,0.7,1.5,-0.9,-1.6,2.6,0.3,-0.4,-2.0,1.1,0.5,-1.2,
2.0,-0.7,0.9,-1.8,1.4,2.8,-0.3,-1.4,0.6,2.2,-1.0,0.1,1.8,-2.1,0.8,2.5,-0.5,1.2,-1.5,0.4,
2.3,-0.6,1.0,2.7,-1.2,0.5,1.7,-0.3,2.4,0.9];
const tripoliObs2 = [-0.8,-0.2,-1.1,-0.5,0.2,-0.9,-0.4,-1.3,0.0,-0.7,-1.0,-0.3,0.3,-0.8,-0.5,-1.2,0.1,-0.6,-0.9,-0.2,
-0.5,-1.1,0.2,-0.7,-0.3,-1.4,-0.6,0.1,-0.9,-0.4,-1.2,0.4,-0.5,-0.8,-0.1,-1.3,-0.6,0.2,-1.0,-0.4,
-0.7,0.1,-0.4,-1.2,-0.2,0.5,-0.9,-0.5,-1.1,0.0,-0.6,-0.3,0.4,-1.0,-0.4,0.2,-0.8,-1.3,-0.1,0.3,
-0.6,-1.0,0.1,-0.4,0.6,-0.8,-0.2,-1.1,0.3,-0.5,-0.9,0.4,-0.3,-1.2,0.0,-0.6,0.5,-0.9,-0.1,0.2,
-0.4,0.5,-0.7,0.0,0.8,-0.5,-0.1,0.6,-0.8,0.3,-0.3,0.9,-0.6,0.1,0.7,-0.4,0.4,-0.9,0.2,0.6,
-0.3,0.5,-0.9,0.1,-0.6,0.8,-1.2,-0.2,0.4,-0.8,0.2,-1.0,0.7,-0.4,-1.3,0.3,-0.5,0.9,-0.7,0.0,
0.4,-0.8,-0.1,-1.2,0.6,-0.5,0.1,-1.0,0.8,-0.3,-0.9,0.5,-0.6,0.2,-1.4,-0.2,0.7,-0.7,0.3,-1.1,
-0.4,0.6,-0.9,0.2,-0.2,1.0,-0.7,-0.1,0.5,-1.1,0.1,-0.5,0.9,-0.8,0.3,-0.3,1.1,-0.6,0.0,0.7,
0.2,-0.6,0.8,-0.2,1.1,-0.9,0.4,-0.4,0.9,0.0,-0.7,1.2,0.3,-0.5,0.6,-0.1,1.0,-0.8,0.5,0.1,
0.7,-0.3,1.2,0.4,-0.6,0.9,0.1,1.4,-0.2,0.6,1.0,-0.5,0.8,0.2,1.3,-0.4,0.5,1.1,0.0,0.7,
1.2,0.4,-0.2,1.5,0.7,0.1,1.0,0.5,1.4,-0.1];
const tripoliModel = [-1.9,0.2,-0.6,-2.3,0.8,-1.4,-0.2,-2.6,0.5,-1.0,-1.7,1.1,-0.4,-2.0,0.3,-1.2,-2.4,0.6,-0.8,-1.5,
0.4,-1.8,-0.3,1.2,-2.2,-0.9,0.7,-1.4,-2.5,0.1,-0.5,1.5,-1.9,-0.2,0.9,-2.1,-1.1,0.5,-0.7,1.8,
-1.3,0.3,-2.0,1.0,-0.6,-1.7,1.6,-0.1,-2.4,0.7,-0.9,1.3,-1.5,0.2,-2.2,0.9,-0.4,2.0,-1.2,-0.2,
1.1,-1.4,0.5,-2.0,1.7,-0.6,0.2,-1.7,2.2,-0.3,-1.1,1.4,0.0,-2.3,0.8,1.9,-0.8,0.4,-1.5,1.2,
-0.5,1.6,0.3,-1.3,2.1,0.8,-0.9,1.3,2.6,-1.6,0.5,1.8,-0.2,0.9,-1.8,2.3,0.1,1.1,-0.7,1.5,
2.0,-0.4,1.2,2.7,-1.2,0.6,1.7,-0.2,2.4,0.3,-0.9,1.5,3.0,0.0,1.0,-1.4,2.2,0.8,-0.5,1.9,
1.3,-0.7,2.5,0.4,1.8,-1.1,0.9,3.1,-0.2,1.6,2.3,0.1,-0.9,1.4,2.8,0.6,-0.4,2.0,1.1,3.3,
0.5,2.4,-0.3,1.7,3.0,0.9,1.4,-0.6,2.7,1.0,3.5,0.2,1.9,2.6,-0.1,1.3,3.2,0.7,2.1,-0.4,
2.4,1.0,3.4,0.3,1.8,2.9,-0.2,1.5,3.8,0.8,2.2,1.2,-0.3,2.7,0.6,1.9,3.1,0.1,1.4,2.5,
0.4,2.6,1.5,3.3,-0.1,2.0,1.1,3.7,0.7,2.3,1.8,-0.4,2.9,1.3,4.0,0.9,2.2,1.6,3.4,0.6,
3.0,1.4,2.5,4.1,0.8,2.9,1.9,3.6,0.5,2.3,4.4,1.6,2.8,1.0,3.3,2.1,4.7,0.9,2.6,1.7,
3.6,1.8,2.9,4.6,1.1,3.2,2.3,0.7,3.9,2.7,5.0,1.5,3.4,2.0,4.2,1.2,2.8,3.7,0.9,3.1,
4.3,2.2,3.5,1.4,4.8,2.6,3.1,1.0,4.0,2.9,5.2,1.8,3.7,2.4,4.5,1.3,3.3,2.0,4.9,2.7,
3.9,2.1,4.6,3.0,1.5,4.2,2.8,5.4,3.4,1.9,4.4,3.1,2.3,5.0,3.7,1.7,4.1,2.6,5.6,3.2,
4.5,2.7,3.9,5.3,2.2,4.2,3.4,5.8,2.9,4.0,1.9,4.8,3.6,5.5,2.5,4.4,3.1,5.1,3.8,2.8];
const tripoliModel2 = [-0.5,-1.2,-0.8,-0.2,-1.5,-0.9,-0.4,-1.1,-0.6,-1.7,-0.3,-1.0,-0.7,-1.4,-0.1,-0.9,-1.3,-0.5,-0.8,-1.2,
-0.2,-0.9,-0.5,-1.2,-0.1,-0.7,-1.0,-0.3,-0.8,0.1,-1.3,-0.6,-0.2,-1.0,-0.4,-0.9,0.0,-0.7,-1.1,-0.4,
-0.7,0.0,-0.5,-1.0,0.2,-0.3,-0.8,0.1,-0.6,-1.1,-0.2,0.4,-0.9,-0.4,0.0,-0.7,-1.2,-0.1,0.3,-0.6,
0.3,-0.5,0.1,-0.8,0.6,-0.2,0.4,-0.6,0.0,0.8,-0.4,0.2,-0.9,0.5,-0.1,0.7,-0.3,0.3,-0.7,0.1,
0.0,0.7,0.3,-0.4,1.0,0.5,-0.1,0.8,0.2,1.1,0.6,-0.3,0.9,0.4,0.0,1.2,0.5,-0.2,0.8,0.3,
0.4,1.1,0.7,0.1,1.3,0.8,0.3,1.0,1.5,0.5,0.9,0.0,1.2,0.6,0.2,1.1,0.8,1.4,0.4,0.9,
1.2,0.6,1.0,0.3,1.5,0.9,1.3,0.5,1.7,1.0,0.4,1.2,0.8,1.6,0.7,1.1,0.2,1.4,0.9,1.3,
0.9,1.6,1.2,0.7,1.9,1.3,1.0,1.7,0.8,1.5,2.1,1.1,1.4,0.6,1.8,1.2,1.5,2.0,1.0,1.6,
1.3,2.0,1.6,1.0,2.2,1.7,1.2,1.9,2.4,1.4,1.8,1.1,2.1,1.5,1.7,1.0,1.9,1.3,1.6,1.2,
1.5,2.1,1.7,1.2,2.3,1.8,1.4,2.0,1.6,2.4,1.9,1.3,2.2,1.7,1.5,2.5,1.9,2.1,1.6,2.3,
2.0,2.6,2.2,1.7,2.8,2.3,1.9,2.5,2.1,2.9,2.4,1.8,2.7,2.2,2.5,1.9,3.0,2.3,2.6,2.1,
2.8,2.3,2.6,2.0,3.1,2.5,2.9,2.2,2.7,3.2,2.4,2.8,2.1,3.0,2.6,2.3,3.3,2.7,2.5,2.9,
3.1,2.6,3.0,3.4,2.5,3.2,2.8,3.6,2.9,2.4,3.3,3.0,2.7,3.5,3.1,2.8,3.7,2.9,3.2,3.4,
3.5,3.0,3.4,2.8,3.8,3.3,3.1,3.9,3.4,2.9,3.6,3.2,4.0,3.5,3.0,3.7,3.3,4.1,3.6,3.2,
3.9,3.4,3.8,4.2,3.5,3.7,4.3,3.6,4.0,3.3,4.4,3.8,3.5,4.1,3.9,3.6,4.5,3.8,4.0,3.7];
const tripoliTrend = [-1.0,-0.9,-0.7,-0.6,-0.6,-0.5,-0.3,-0.1,0.1,0.3,0.6,0.7,0.8,1.0,1.1,1.3,1.6,1.7,1.4,1.8,2.1,2.3,2.5,2.6,2.8,3.0,3.2,3.4,3.6,3.7,3.9];

const obsSeries = [damascusObs, dhahranObs, jerusalemObs, nicosiaObs, tripoliObs];
const obsSeries2 = [damascusObs2, dhahranObs2, jerusalemObs2, nicosiaObs2, tripoliObs2];
const modelSeries = [damascusModel, dhahranModel, jerusalemModel, nicosiaModel, tripoliModel];
const modelSeries2 = [damascusModel2, dhahranModel2, jerusalemModel2, nicosiaModel2, tripoliModel2];
const trendSeries = [damascusTrend, dhahranTrend, jerusalemTrend, nicosiaTrend, tripoliTrend];

// ---------------- LAYOUT ----------------
const svg = d3.select("#chart");
const left = 99, right = 928, top0 = 13, panelH = 149;
const x = d3.scaleLinear().domain([1901, 2100]).range([left, right]);
const frameColor = "#3f3f3f", textColor = "#2a2a2a";
const fontSans = "'Open Sans', sans-serif";

svg.append("defs").append("clipPath").attr("id", "plotclip")
  .append("rect").attr("x", left).attr("y", top0).attr("width", right - left).attr("height", panelH * 5);

function dots(sel, values, start, y, r, fill, opacity) {
  sel.append("g").selectAll("circle").data(values).join("circle")
    .attr("cx", (d, i) => x(start + i * valueStep))
    .attr("cy", d => y(d))
    .attr("r", r).attr("fill", fill).attr("fill-opacity", opacity);
}

stations.forEach((name, p) => {
  const pt = top0 + p * panelH;
  const y = d3.scaleLinear().domain([-15, 15]).range([pt + panelH, pt]);
  const g = svg.append("g");
  const data = g.append("g").attr("clip-path", "url(#plotclip)");

  dots(data, obsSeries[p], obsStart, y, 2.6, "#3a3a3a", 1);
  dots(data, obsSeries2[p], obsStart + secondOffset, y, 2.6, "#3a3a3a", 1);
  dots(data, modelSeries[p], modStart, y, 2.3, "#f47a3c", 0.9);
  dots(data, modelSeries2[p], modStart + secondOffset, y, 2.3, "#e8461e", 0.9);

  const line = d3.line().x((d, i) => x(trendYears[i])).y(d => y(d)).curve(d3.curveMonotoneX);
  data.append("path").datum(trendSeries[p]).attr("d", line)
    .attr("fill", "none").attr("stroke", "#a81d17").attr("stroke-width", 3.4);

  // frame
  g.append("rect").attr("x", left).attr("y", pt).attr("width", right - left).attr("height", panelH)
    .attr("fill", "none").attr("stroke", frameColor).attr("stroke-width", 2);

  // y ticks (inward, both sides) at inner values
  yTicks.filter(v => Math.abs(v) < 15).forEach(v => {
    g.append("line").attr("x1", left).attr("x2", left + 14).attr("y1", y(v)).attr("y2", y(v))
      .attr("stroke", frameColor).attr("stroke-width", 1.5);
    g.append("line").attr("x1", right - 14).attr("x2", right).attr("y1", y(v)).attr("y2", y(v))
      .attr("stroke", frameColor).attr("stroke-width", 1.5);
  });
  // y tick labels
  yTicks.forEach(v => {
    const off = v === 15 ? 12 : (v === -15 ? -7 : 2);
    g.append("text").attr("x", 88).attr("y", y(v) + off)
      .attr("text-anchor", "end").attr("dominant-baseline", "middle")
      .attr("font-family", fontSans).attr("font-size", 21)
      .attr("fill", textColor).text(v);
  });
  // x ticks (small, inward at top and bottom)
  xTicks.slice(1, -1).forEach(t => {
    g.append("line").attr("x1", x(t)).attr("x2", x(t)).attr("y1", pt).attr("y2", pt + 4)
      .attr("stroke", frameColor).attr("stroke-width", 1.5);
    g.append("line").attr("x1", x(t)).attr("x2", x(t)).attr("y1", pt + panelH - 4).attr("y2", pt + panelH)
      .attr("stroke", frameColor).attr("stroke-width", 1.5);
  });

  // station title
  g.append("text").attr("x", 155).attr("y", pt + 36)
    .attr("font-family", "'Liberation Sans', Arial, sans-serif").attr("font-weight", "bold")
    .attr("font-size", 27).attr("fill", "#222").text(name);
  // trend text
  g.append("text").attr("x", 888).attr("y", pt + panelH - 11).attr("text-anchor", "end")
    .attr("font-family", fontSans).attr("font-size", 25)
    .attr("fill", textColor).text(trendLabels[p]);
});

// x tick labels
const bottom = top0 + 5 * panelH;
xTicks.forEach(t => {
  svg.append("text").attr("x", x(t)).attr("y", bottom + 37).attr("text-anchor", "middle")
    .attr("font-family", fontSans).attr("font-size", 27)
    .attr("fill", textColor).text(t);
});
svg.append("text").attr("x", x(2001)).attr("y", bottom + 72).attr("text-anchor", "middle")
  .attr("font-family", fontSans).attr("font-size", 25)
  .attr("fill", textColor).text("Year");
svg.append("text").attr("transform", "translate(46,388) rotate(-90)").attr("text-anchor", "middle")
  .attr("font-family", fontSans).attr("font-size", 36)
  .attr("fill", textColor).text("°C");
</script></body></html>
